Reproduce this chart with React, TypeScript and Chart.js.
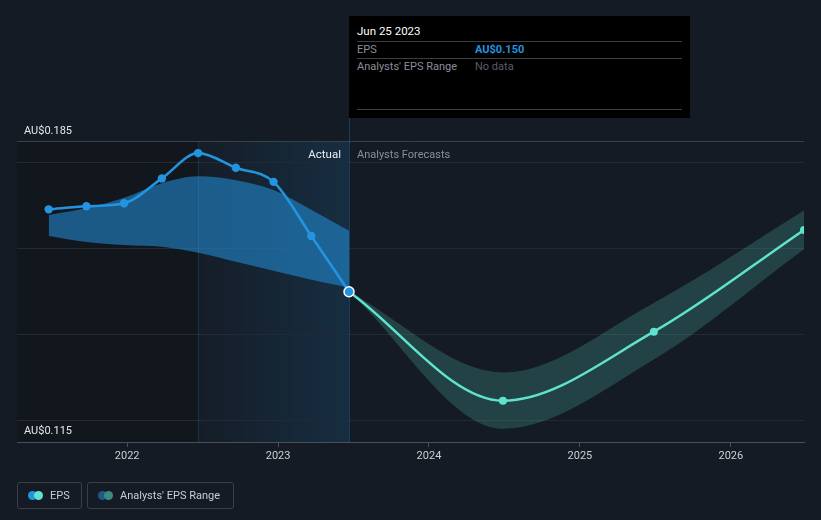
import React, { useEffect, useRef } from "react";
import { Chart, registerables } from "chart.js";

Chart.register(...registerables);

// ---- data (decimal years) ----
const actualDates = [2021.48, 2021.73, 2021.98, 2022.23, 2022.47, 2022.72, 2022.97, 2023.22, 2023.47];
const actualEps = [0.1692, 0.1699, 0.1706, 0.1764, 0.1823, 0.1789, 0.1756, 0.163, 0.15];
const pastRangeHigh = [0.1679, 0.1695, 0.1719, 0.1753, 0.1769, 0.176, 0.1737, 0.1691, 0.1642];
const pastRangeLow = [0.163, 0.1616, 0.1609, 0.1605, 0.1591, 0.157, 0.1549, 0.1528, 0.151];

const forecastDates = [2023.47, 2024.49, 2025.49, 2026.485];
const forecastEps = [0.15, 0.1246, 0.1407, 0.1644];
const forecastHigh = [0.15, 0.1312, 0.1474, 0.1689];
const forecastLow = [0.15, 0.1181, 0.1342, 0.1599];

const yearTicks = [2022, 2023, 2024, 2025, 2026];
const gridValues = [0.115, 0.12, 0.14, 0.16, 0.18, 0.185];
const yTopLabel = "AU$0.185";
const yBottomLabel = "AU$0.115";

const xMin = 2021.27;
const xMax = 2026.485;
const yMin = 0.115;
const yMax = 0.185;
const pastYearStart = 2022.47;
const nowDate = 2023.47;

const FONT = "Roboto, 'Noto Sans', sans-serif";

const pts = (xs: number[], ys: number[]) => xs.map((x, i) => ({ x, y: ys[i] }));

const decorPlugin = {
  id: "decor",
  beforeDraw(chart: any) {
    const { ctx, chartArea, scales } = chart;
    const x = scales.x;
    const xPast = x.getPixelForValue(pastYearStart);
    const xNow = x.getPixelForValue(nowDate);
    ctx.save();
    ctx.fillStyle = "#12161d";
    ctx.fillRect(chartArea.left, chartArea.top, xPast - chartArea.left, chartArea.bottom - chartArea.top);
    const g = ctx.createLinearGradient(xPast, 0, xNow, 0);
    g.addColorStop(0, "rgba(35,148,223,0.02)");
    g.addColorStop(1, "rgba(35,148,223,0.16)");
    ctx.fillStyle = g;
    ctx.fillRect(xPast, chartArea.top, xNow - xPast, chartArea.bottom - chartArea.top);
    ctx.restore();
  },
  beforeDatasetsDraw(chart: any) {
    const { ctx, chartArea, scales } = chart;
    const x = scales.x;
    const xPast = x.getPixelForValue(pastYearStart);
    const xNow = x.getPixelForValue(nowDate);
    ctx.save();
    ctx.lineWidth = 1;
    ctx.strokeStyle = "rgba(35,148,223,0.18)";
    ctx.beginPath();
    ctx.moveTo(Math.round(xPast) + 0.5, chartArea.top);
    ctx.lineTo(Math.round(xPast) + 0.5, chartArea.bottom);
    ctx.stroke();
    ctx.strokeStyle = "rgba(35,148,223,0.3)";
    ctx.beginPath();
    ctx.moveTo(Math.round(xNow) + 0.5, 117);
    ctx.lineTo(Math.round(xNow) + 0.5, chartArea.bottom);
    ctx.stroke();
    ctx.restore();
  },
  afterDraw(chart: any) {
    const { ctx, chartArea, scales } = chart;
    const y = scales.y;
    const xNow = scales.x.getPixelForValue(nowDate);
    ctx.save();
    ctx.font = `11px ${FONT}`;
    ctx.textBaseline = "alphabetic";
    ctx.fillStyle = "#e4e6e9";
    ctx.textAlign = "left";
    ctx.fillText(yTopLabel, chartArea.left + 7, y.getPixelForValue(yMax) - 8);
    ctx.fillText(yBottomLabel, chartArea.left + 7, y.getPixelForValue(yMin) - 8);
    ctx.font = `11.5px ${FONT}`;
    ctx.textAlign = "right";
    ctx.fillStyle = "#eceef0";
    ctx.fillText("Actual", xNow - 8, 158);
    ctx.font = `11px ${FONT}`;
    ctx.textAlign = "left";
    ctx.fillStyle = "#8a8f97";
    ctx.fillText("Analysts Forecasts", xNow + 8, 158);
    ctx.restore();
  },
};

export default function App() {
  const ref = useRef<HTMLCanvasElement | null>(null);

  useEffect(() => {
    document.body.style.margin = "0";
    document.body.style.background = "#151b24";
    const canvas = ref.current;
    if (!canvas) return;
    const lastIdx = actualDates.length - 1;
    const chart = new Chart(canvas, {
      type: "line",
      data: {
        datasets: [
          {
            label: "pastHigh",
            data: pts(actualDates, pastRangeHigh),
            borderWidth: 0,
            pointRadius: 0,
            fill: "+1",
            backgroundColor: "rgba(35,148,223,0.54)",
            cubicInterpolationMode: "monotone",
            order: 5,
          },
          {
            label: "pastLow",
            data: pts(actualDates, pastRangeLow),
            borderWidth: 0,
            pointRadius: 0,
            fill: false,
            cubicInterpolationMode: "monotone",
            order: 6,
          },
          {
            label: "fcHigh",
            data: pts(forecastDates, forecastHigh),
            borderWidth: 0,
            pointRadius: 0,
            fill: "+1",
            backgroundColor: "rgba(95,227,207,0.2)",
            cubicInterpolationMode: "monotone",
            order: 3,
          },
          {
            label: "fcLow",
            data: pts(forecastDates, forecastLow),
            borderWidth: 0,
            pointRadius: 0,
            fill: false,
            cubicInterpolationMode: "monotone",
            order: 4,
          },
          {
            label: "Forecast EPS",
            data: pts(forecastDates, forecastEps),
            borderColor: "#5fe3cf",
            backgroundColor: "#5fe3cf",
            borderWidth: 2.5,
            pointRadius: (c: any) => (c.dataIndex === 0 ? 0 : 4),
            pointBorderWidth: 0,
            fill: false,
            cubicInterpolationMode: "monotone",
            order: 2,
          },
          {
            label: "EPS",
            data: pts(actualDates, actualEps),
            borderColor: "#2394df",
            backgroundColor: "#2394df",
            borderWidth: 2.6,
            pointRadius: (c: any) => (c.dataIndex === lastIdx ? 5 : 4.2),
            pointBorderWidth: (c: any) => (c.dataIndex === lastIdx ? 1.5 : 0),
            pointBorderColor: (c: any) => (c.dataIndex === lastIdx ? "#ffffff" : "#2394df"),
            fill: false,
            cubicInterpolationMode: "monotone",
            order: 1,
          },
        ],
      },
      options: {
        animation: false,
        responsive: false,
        events: [],
        layout: { padding: { left: 17, right: 17, top: 141.5, bottom: 48 } },
        plugins: { legend: { display: false }, tooltip: { enabled: false } },
        scales: {
          x: {
            type: "linear",
            min: xMin,
            max: xMax,
            afterBuildTicks: (s: any) => {
              s.ticks = yearTicks.map((v) => ({ value: v }));
            },
            afterFit: (s: any) => {
              s.height = 30;
            },
            ticks: {
              autoSkip: false,
              maxRotation: 0,
              padding: 3,
              color: "#cdd0d5",
              font: { family: FONT, size: 11 },
              callback: (v: any) => String(v),
            },
            grid: { drawOnChartArea: false, drawTicks: true, tickLength: 5, color: "#4b5058" },
            border: { display: true, color: "#4b5058", width: 1 },
          },
          y: {
            type: "linear",
            min: yMin,
            max: yMax,
            afterBuildTicks: (s: any) => {
              s.ticks = gridValues.map((v) => ({ value: v }));
            },
            afterFit: (s: any) => {
              s.width = 0;
            },
            ticks: { display: false },
            grid: {
              drawTicks: false,
              color: (c: any) =>
                c.tick && c.tick.value === yMax ? "#3b414a" : c.tick && c.tick.value === yMin ? "rgba(0,0,0,0)" : "#242a33",
            },
            border: { display: false },
          },
        },
      },
      plugins: [decorPlugin],
    } as any);
    return () => chart.destroy();
  }, []);

  const legendBox: React.CSSProperties = {
    position: "absolute",
    top: 482,
    height: 27,
    boxSizing: "border-box",
    border: "1px solid #3a3f48",
    borderRadius: 3,
    display: "flex",
    alignItems: "center",
    fontFamily: FONT,
    fontSize: 11,
    color: "#c9cdd3",
  };
  const dot = (color: string, left: number): React.CSSProperties => ({
    position: "absolute",
    left,
    top: 8,
    width: 9,
    height: 9,
    borderRadius: "50%",
    background: color,
  });
  const row: React.CSSProperties = {
    position: "absolute",
    left: 8,
    fontFamily: FONT,
    fontSize: 11,
    color: "#8a8f97",
  };
  const sep = (top: number): React.CSSProperties => ({
    position: "absolute",
    left: 8,
    right: 8,
    top,
    height: 1,
    background: "#3a3d42",
  });

  return (
    <div style={{ position: "fixed", left: 0, top: 0, width: 821, height: 520, background: "#151b24", overflow: "hidden" }}>
      <canvas ref={ref} width={821} height={520} style={{ position: "absolute", left: 0, top: 0 }} />
      <div style={{ position: "absolute", left: 349, top: 16, width: 341, height: 102, background: "#000" }}>
        <div style={{ ...row, top: 8, color: "#ffffff", fontSize: 11.5 }}>Jun 25 2023</div>
        <div style={sep(25)} />
        <div style={{ ...row, top: 27 }}>EPS</div>
        <div style={{ ...row, top: 27, left: 126, color: "#2394df", fontWeight: 700 }}>AU$0.150</div>
        <div style={sep(42)} />
        <div style={{ ...row, top: 44 }}>Analysts' EPS Range</div>
        <div style={{ ...row, top: 44, left: 126, color: "#5a5f66" }}>No data</div>
        <div style={sep(93)} />
      </div>
      <div style={{ ...legendBox, left: 17, width: 65 }}>
        <span style={dot("#2394df", 10)} />
        <span style={dot("#5fe3cf", 16)} />
        <span style={{ position: "absolute", left: 32 }}>EPS</span>
      </div>
      <div style={{ ...legendBox, left: 87, width: 147 }}>
        <span style={dot("#1e5a86", 10)} />
        <span style={dot("#3d8a84", 16)} />
        <span style={{ position: "absolute", left: 32 }}>Analysts' EPS Range</span>
      </div>
    </div>
  );
}
